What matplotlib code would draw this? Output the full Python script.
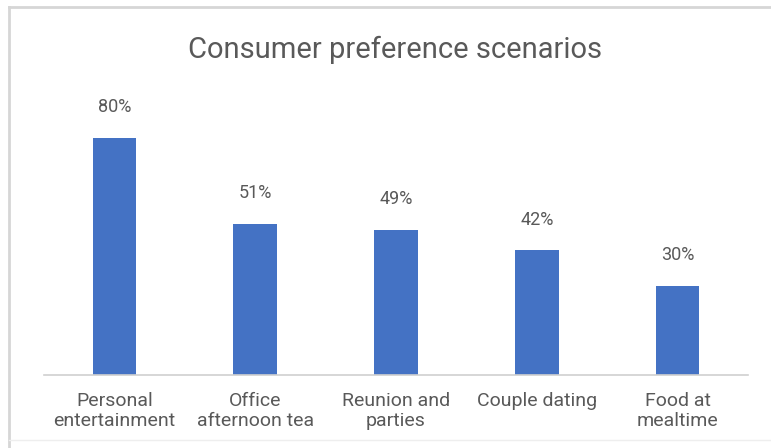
import matplotlib
matplotlib.use("Agg")
import matplotlib.pyplot as plt
from matplotlib.lines import Line2D

categories = ["Personal\nentertainment", "Office\nafternoon tea", "Reunion and\nparties",
              "Couple dating", "Food at\nmealtime"]
values = [80, 51, 49, 42, 30]
labels = ["80%", "51%", "49%", "42%", "30%"]

W, H = 771, 448
fig = plt.figure(figsize=(W / 100, H / 100), dpi=100)
plt.rcParams['font.family'] = ['Roboto', 'DejaVu Sans']

# border (top and left visible, faint bottom)
fig.lines.append(Line2D([9 / W, 1], [1 - 7 / H, 1 - 7 / H], transform=fig.transFigure,
                        color="#d6d6d6", linewidth=2))
fig.lines.append(Line2D([9 / W, 9 / W], [0, 1 - 7 / H], transform=fig.transFigure,
                        color="#d6d6d6", linewidth=2))
fig.lines.append(Line2D([9 / W, 1], [1 - 440 / H, 1 - 440 / H], transform=fig.transFigure,
                        color="#eeeeee", linewidth=1))

left, right = 44, 748
bottom, top = 375, 108
ax = fig.add_axes([left / W, 1 - bottom / H, (right - left) / W, (bottom - top) / H])
x = range(len(values))
ax.bar(x, values, width=0.31, color="#4472C4")
ax.set_xlim(-0.5, len(values) - 0.5)
ax.set_ylim(0, 90)
for i, (v, t) in enumerate(zip(values, labels)):
    ax.annotate(t, (i, v), xytext=(0, 22), textcoords="offset points", ha="center",
                va="center", fontsize=13, color="#595959")
for s in ["top", "right", "left"]:
    ax.spines[s].set_visible(False)
ax.spines["bottom"].set_color("#d0d0d0")
ax.spines["bottom"].set_linewidth(1.2)
ax.set_yticks([])
ax.set_xticks(list(x))
ax.set_xticklabels(categories, fontsize=14, color="#595959", linespacing=1.2)
ax.tick_params(axis="x", length=0, pad=12)

fig.text(395 / W, 1 - 50 / H, "Consumer preference scenarios", ha="center", va="center",
         fontsize=21, color="#595959")

fig.savefig("out.png", dpi=100)
